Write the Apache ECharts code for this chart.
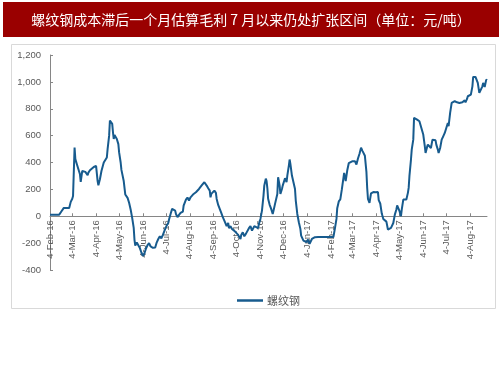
<!DOCTYPE html>
<html>
<head>
<meta charset="utf-8">
<script src="https://cdn.jsdelivr.net/npm/echarts@6/dist/echarts.min.js"></script>
<style>
html,body{margin:0;padding:0;background:#fff;}
#chart{width:503px;height:378px;}
</style>
</head>
<body>
<div id="chart"></div>
<script>
// Data
var titleText = '螺纹钢成本滞后一个月估算毛利 7 月以来仍处扩张区间（单位：元/吨）';
var seriesName = '螺纹钢';
var startDate = [2016, 1, 4];   // 4-Feb-16 (month is 0-based)
var dayCount = 570;             // calendar days shown on the x axis
var monthNames = ['Jan','Feb','Mar','Apr','May','Jun','Jul','Aug','Sep','Oct','Nov','Dec'];
var yTicks = { min: -400, max: 1200, interval: 200 };

// day offsets from 4-Feb-16 and the estimated margin (元/吨) on that day
var dayOffsets = [0,12,15,18,25,27,29,30,32,33,35,37,39,40,42,44,46,49,50,52,54,57,60,61,62,63,65,67,70,71,72,74,75,77,78,80,81,82,83,84,85,87,89,90,92,93,96,97,98,100,101,103,105,107,109,110,111,113,115,117,119,121,123,125,127,129,131,134,137,139,141,143,145,147,148,150,152,154,155,157,159,161,163,164,166,168,170,173,174,177,179,181,183,185,187,190,192,194,196,198,201,202,204,206,208,209,210,212,214,216,217,219,221,223,225,227,229,230,232,233,235,237,239,241,243,245,246,248,249,251,253,255,257,259,261,263,264,266,268,271,272,274,276,278,279,281,282,283,284,286,288,290,291,293,296,297,299,300,302,303,304,306,308,309,311,312,313,315,317,319,320,322,324,326,327,330,332,334,336,338,341,343,345,347,349,369,371,373,374,376,378,380,383,385,387,389,391,394,397,399,401,403,405,407,409,410,412,413,414,416,418,421,424,427,428,430,432,434,436,438,440,442,444,447,449,451,452,455,457,458,460,462,464,466,467,468,470,471,473,474,476,478,481,483,486,488,489,491,492,494,496,498,499,502,503,505,506,508,510,512,514,516,518,519,521,523,525,527,529,530,531,533,535,537,540,541,543,544,546,548,550,551,554,556,557,559,561,563,564,566,568,569];
var values = [12,12,37,62,62,107,130,150,512,425,387,350,312,255,337,342,330,305,325,342,355,367,375,367,262,230,275,337,400,387,412,437,500,600,712,712,687,625,575,605,592,575,537,475,400,345,262,255,162,150,137,100,50,-12,-87,-175,-218,-195,-200,-237,-270,-295,-275,-240,-215,-200,-225,-235,-232,-194,-169,-149,-164,-139,-149,-94,-69,-50,-25,17,55,55,42,17,-7,10,25,35,79,124,139,117,141,154,166,179,191,203,216,233,253,248,228,208,191,141,166,179,191,174,129,84,55,25,-7,-32,-25,-74,-50,-89,-74,-94,-107,-114,-124,-139,-149,-169,-139,-119,-149,-131,-119,-89,-74,-107,-99,-74,-69,-89,-57,-20,42,154,228,280,262,210,130,85,55,17,40,92,166,290,228,166,203,228,240,283,253,303,377,422,389,303,253,203,117,17,-45,-94,-144,-181,-181,-193,-174,-206,-169,-181,-156,-160,-155,-155,-90,-20,60,110,125,200,323,262,340,395,405,410,410,385,430,465,510,485,480,450,330,210,130,100,170,180,178,180,120,95,20,-20,-25,-40,-99,-104,-87,-50,12,50,80,40,0,50,124,136,124,174,211,298,422,496,570,732,724,719,707,694,608,521,471,516,533,541,508,570,575,565,533,496,471,508,570,595,620,657,694,670,769,843,848,856,868,848,856,843,843,848,863,848,873,893,880,905,967,1037,1037,1029,992,918,930,967,992,962,1017,1012];

// Build calendar-day categories labelled like "4-Feb-16"
var categories = [];
for (var i = 0; i < dayCount; i++) {
  var dt = new Date(Date.UTC(startDate[0], startDate[1], startDate[2] + i));
  categories.push(dt.getUTCDate() + '-' + monthNames[dt.getUTCMonth()] + '-' + String(dt.getUTCFullYear()).slice(2));
}
var seriesData = dayOffsets.map(function (d, k) { return [categories[d], values[k]]; });
var isFourth = function (index, value) { return String(value).indexOf('4-') === 0; };

var gridTop = 55, gridHeight = 215;
// place the category axis on the zero line
var zeroOffset = -gridHeight * (0 - yTicks.min) / (yTicks.max - yTicks.min);

var chart = echarts.init(document.getElementById('chart'), null, { renderer: 'canvas' });
chart.setOption({
  animation: false,
  backgroundColor: '#ffffff',
  graphic: [
    { type: 'rect', shape: { x: 3, y: 2, width: 496, height: 35 }, style: { fill: '#9a0000' }, z: 0 },
    { type: 'text', x: 251, y: 19.5, style: { text: titleText, fill: '#ffffff', fontSize: 14, fontFamily: 'Noto Sans CJK SC', align: 'center', verticalAlign: 'middle' }, z: 1 },
    { type: 'rect', shape: { x: 11.5, y: 44.5, width: 484, height: 264 }, style: { fill: 'none', stroke: '#d9d9d9', lineWidth: 1 }, z: 0 }
  ],
  grid: { left: 50, top: gridTop, width: 437, height: gridHeight, containLabel: false, outerBoundsMode: 'none' },
  legend: {
    left: 232, top: 290,
    itemWidth: 26, itemHeight: 2.5, itemGap: 10,
    textStyle: { color: '#595959', fontSize: 11, fontFamily: 'Noto Sans CJK SC', padding: [0, 0, 0, -1] },
    data: [{ name: seriesName, icon: 'rect' }]
  },
  xAxis: {
    type: 'category',
    data: categories,
    boundaryGap: false,
    position: 'bottom',
    offset: zeroOffset,
    axisLine: { onZero: false, lineStyle: { color: '#868686', width: 1 } },
    axisTick: { show: true, inside: true, length: 3, interval: isFourth, lineStyle: { color: '#868686' } },
    axisLabel: { interval: isFourth, rotate: 90, fontSize: 9.5, color: '#595959', fontFamily: 'Liberation Sans', margin: 4 },
    splitLine: { show: false }
  },
  yAxis: {
    type: 'value',
    min: yTicks.min, max: yTicks.max, interval: yTicks.interval,
    axisLine: { show: true, lineStyle: { color: '#868686', width: 1 } },
    axisTick: { show: true, inside: true, length: 3, lineStyle: { color: '#868686' } },
    axisLabel: {
      fontSize: 9.5, color: '#595959', fontFamily: 'Liberation Sans', margin: 9,
      formatter: function (v) { return v.toLocaleString('en-US'); }
    },
    splitLine: { show: false }
  },
  series: [{
    name: seriesName,
    type: 'line',
    data: seriesData,
    symbol: 'none',
    smooth: false,
    lineStyle: { color: '#175b8e', width: 2 },
    itemStyle: { color: '#175b8e' }
  }]
});
</script>
</body>
</html>
